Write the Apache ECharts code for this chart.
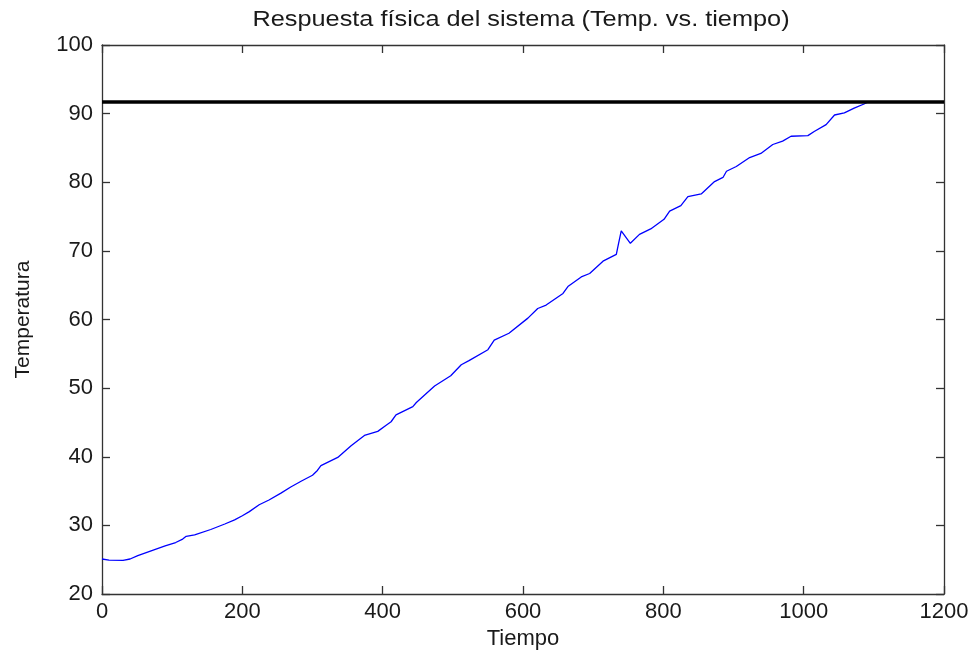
<!DOCTYPE html>
<html>
<head>
<meta charset="utf-8">
<script src="https://cdn.jsdelivr.net/npm/echarts@6/dist/echarts.min.js"></script>
<style>
  html, body { margin: 0; padding: 0; background: #fff; }
  #chart { width: 974px; height: 655px; }
</style>
</head>
<body>
<div id="chart"></div>
<script>
// Sampled system response: time and temperature
const tiempo = [
  0, 10, 30, 40, 51, 70, 90, 105, 115, 120, 132, 155, 175, 189, 200, 210, 224, 238,
  255, 269, 285, 300, 307, 312, 336, 355, 374, 393, 405, 412, 419, 443, 448, 474,
  497, 512, 523, 550, 559, 580, 607, 621, 633, 657, 664, 683, 695, 714, 733, 736,
  740, 753, 766, 782, 801, 809, 825, 835, 854, 873, 885, 890, 904, 923, 939, 956,
  970, 982, 1006, 1015, 1032, 1044, 1058, 1072, 1086, 1092
];
const temperatura = [
  25.1, 24.95, 24.9, 25.1, 25.6, 26.3, 27.0, 27.5, 28.0, 28.4, 28.6, 29.4, 30.2, 30.8, 31.4, 32.0, 33.0, 33.7,
  34.7, 35.6, 36.5, 37.3, 38.0, 38.7, 39.9, 41.6, 43.1, 43.7, 44.6, 45.1, 46.1, 47.3, 47.9, 50.3,
  51.8, 53.4, 54.0, 55.6, 57.0, 58.0, 60.2, 61.6, 62.1, 63.8, 64.8, 66.2, 66.7, 68.5, 69.5, 71.0,
  72.9, 71.1, 72.4, 73.2, 74.6, 75.8, 76.6, 77.9, 78.3, 80.1, 80.7, 81.6, 82.3, 83.6, 84.2, 85.5,
  86.0, 86.7, 86.8, 87.4, 88.4, 89.8, 90.1, 90.8, 91.4, 91.7
];
// Set-point reference level
const setpoint = 91.8;

const xTicks = { min: 0, max: 1200, interval: 200 };
const yTicks = { min: 20, max: 100, interval: 10 };

const FONT = '"Liberation Sans", Arial, sans-serif';
const TEXT = '#1a1a1a';
const FRAME = '#333333';

const points = tiempo.map((t, i) => [t, temperatura[i]]);
const plain = v => String(v);

function frameAxis(extra) {
  return Object.assign({
    type: 'value',
    axisLine: { show: true, onZero: false, lineStyle: { color: FRAME, width: 1.3 } },
    axisTick: { show: true, inside: true, length: 8, lineStyle: { color: FRAME, width: 1.3 } },
    splitLine: { show: false }
  }, extra);
}

const chart = echarts.init(document.getElementById('chart'), null, { renderer: 'canvas' });
chart.setOption({
  backgroundColor: '#ffffff',
  animation: false,
  graphic: [
    {
      type: 'text',
      x: 521, y: 20,
      scaleX: 1.15,
      style: {
        text: 'Respuesta física del sistema (Temp. vs. tiempo)',
        font: '22px ' + FONT,
        fill: TEXT,
        textAlign: 'center',
        textVerticalAlign: 'middle'
      }
    }
  ],
  grid: { left: 102, right: 30, top: 45, bottom: 58, containLabel: false },
  xAxis: [
    frameAxis({
      position: 'bottom', min: xTicks.min, max: xTicks.max, interval: xTicks.interval,
      name: 'Tiempo', nameLocation: 'middle', nameGap: 34,
      nameTextStyle: { fontFamily: FONT, fontSize: 22, color: TEXT },
      axisLabel: { fontFamily: FONT, fontSize: 22, color: TEXT, margin: 7, formatter: plain }
    }),
    frameAxis({
      position: 'top', min: xTicks.min, max: xTicks.max, interval: xTicks.interval,
      axisLabel: { show: false }
    })
  ],
  yAxis: [
    frameAxis({
      position: 'left', min: yTicks.min, max: yTicks.max, interval: yTicks.interval,
      name: 'Temperatura', nameLocation: 'middle', nameGap: 68,
      nameTextStyle: { fontFamily: FONT, fontSize: 21, color: TEXT },
      axisLabel: { fontFamily: FONT, fontSize: 22, color: TEXT, margin: 9, formatter: plain }
    }),
    frameAxis({
      position: 'right', min: yTicks.min, max: yTicks.max, interval: yTicks.interval,
      axisLabel: { show: false }
    })
  ],
  series: [
    {
      type: 'line',
      data: points,
      xAxisIndex: 0, yAxisIndex: 0,
      showSymbol: false,
      lineStyle: { color: '#0000ff', width: 1.3 },
      markLine: {
        silent: true,
        symbol: ['none', 'none'],
        label: { show: false },
        lineStyle: { color: '#000000', width: 3.5, type: 'solid' },
        data: [{ yAxis: setpoint }]
      }
    }
  ]
});
</script>
</body>
</html>
